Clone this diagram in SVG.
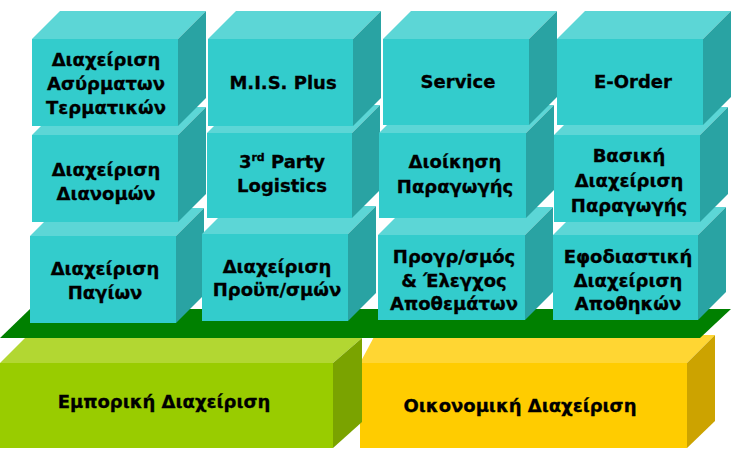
<svg xmlns="http://www.w3.org/2000/svg" width="731" height="469" viewBox="0 0 731 469">
<style>
.tf{fill:#33CCCC}.tt{fill:#5CD6D6}.ts{fill:#29A3A3}
.t{font-family:"DejaVu Sans","Liberation Sans",sans-serif;font-weight:bold;font-size:18px;fill:#000;stroke:#000;stroke-width:0.3;text-anchor:middle}
.b{font-size:18px}
</style>
<rect width="731" height="469" fill="#fff"/>
<g id="oikonomiki">
<polygon points="360,363 375,335 715,335 687,363" fill="#FFD633"/>
<polygon points="687,363 715,335 715,421 687,448" fill="#CCA300"/>
<rect x="360" y="363" width="327" height="85" fill="#FFCC00"/>
<text class="t b" x="520" y="412">Οικονομική Διαχείριση</text>
</g>
<g id="emporiki">
<polygon points="0,363 25,338 362,338 333,363" fill="#B2D732"/>
<polygon points="333,363 362,338 362,422 333,448" fill="#7AA300"/>
<rect x="0" y="363" width="333" height="85" fill="#99CC00"/>
<text class="t b" x="164" y="408">Εμπορική Διαχείριση</text>
</g>
<g id="platform">
<polygon points="0,338 30,309 731,309 700,338" fill="#008000"/>
</g>
<g id="pagia">
<polygon class="tt" points="30,236 58,208 204,208 176,236"/>
<polygon class="ts" points="176,236 204,208 204,295 176,323"/>
<rect class="tf" x="30" y="236" width="146" height="87"/>
<text class="t" x="105" y="275">Διαχείριση</text>
<text class="t" x="105" y="299">Παγίων</text>
</g>
<g id="proypologismoi">
<polygon class="tt" points="202,234 230,206 376,206 348,234"/>
<polygon class="ts" points="348,234 376,206 376,293 348,321"/>
<rect class="tf" x="202" y="234" width="146" height="87"/>
<text class="t" x="277" y="273">Διαχείριση</text>
<text class="t" x="277" y="296">Προϋπ/σμών</text>
</g>
<g id="apothemata">
<polygon class="tt" points="378,235 406,207 553,207 525,235"/>
<polygon class="ts" points="525,235 553,207 553,292 525,320"/>
<rect class="tf" x="378" y="235" width="147" height="85"/>
<text class="t" x="454" y="263">Προγρ/σμός</text>
<text class="t" x="454" y="287">&amp; Έλεγχος</text>
<text class="t" x="454" y="310">Αποθεμάτων</text>
</g>
<g id="apothikes">
<polygon class="tt" points="553,235 581,207 726,207 698,235"/>
<polygon class="ts" points="698,235 726,207 726,292 698,320"/>
<rect class="tf" x="553" y="235" width="145" height="85"/>
<text class="t" x="628" y="263">Εφοδιαστική</text>
<text class="t" x="628" y="287">Διαχείριση</text>
<text class="t" x="628" y="310">Αποθηκών</text>
</g>
<g id="dianomes">
<polygon class="tt" points="32,135 60,107 206,107 178,135"/>
<polygon class="ts" points="178,135 206,107 206,194 178,222"/>
<rect class="tf" x="32" y="135" width="146" height="87"/>
<text class="t" x="106" y="176">Διαχείριση</text>
<text class="t" x="106" y="200">Διανομών</text>
</g>
<g id="logistics">
<polygon class="tt" points="207,133 235,105 380,105 352,133"/>
<polygon class="ts" points="352,133 380,105 380,190 352,218"/>
<rect class="tf" x="207" y="133" width="145" height="85"/>
<text class="t" x="282" y="168">3<tspan font-size="11" dy="-7">rd</tspan><tspan dy="7"> Party</tspan></text>
<text class="t" x="282" y="192">Logistics</text>
</g>
<g id="dioikisi">
<polygon class="tt" points="379,133 407,105 554,105 526,133"/>
<polygon class="ts" points="526,133 554,105 554,190 526,218"/>
<rect class="tf" x="379" y="133" width="147" height="85"/>
<text class="t" x="455" y="168">Διοίκηση</text>
<text class="t" x="455" y="193">Παραγωγής</text>
</g>
<g id="vasiki">
<polygon class="tt" points="554,135 582,107 728,107 700,135"/>
<polygon class="ts" points="700,135 728,107 728,194 700,222"/>
<rect class="tf" x="554" y="135" width="146" height="87"/>
<text class="t" x="629" y="162">Βασική</text>
<text class="t" x="629" y="187">Διαχείριση</text>
<text class="t" x="629" y="212">Παραγωγής</text>
</g>
<g id="termatika">
<polygon class="tt" points="32,39 60,11 206,11 178,39"/>
<polygon class="ts" points="178,39 206,11 206,98 178,126"/>
<rect class="tf" x="32" y="39" width="146" height="87"/>
<text class="t" x="106" y="66">Διαχείριση</text>
<text class="t" x="106" y="90">Ασύρματων</text>
<text class="t" x="106" y="114">Τερματικών</text>
</g>
<g id="mis">
<polygon class="tt" points="208,39 236,11 381,11 353,39"/>
<polygon class="ts" points="353,39 381,11 381,98 353,126"/>
<rect class="tf" x="208" y="39" width="145" height="87"/>
<text class="t" x="283" y="89">M.I.S. Plus</text>
</g>
<g id="service">
<polygon class="tt" points="383,39 411,11 557,11 529,39"/>
<polygon class="ts" points="529,39 557,11 557,97 529,125"/>
<rect class="tf" x="383" y="39" width="146" height="86"/>
<text class="t" x="458" y="88">Service</text>
</g>
<g id="eorder">
<polygon class="tt" points="557,39 585,11 731,11 703,39"/>
<polygon class="ts" points="703,39 731,11 731,97 703,125"/>
<rect class="tf" x="557" y="39" width="146" height="86"/>
<text class="t" x="633" y="88">E-Order</text>
</g>
<g id="connectors"></g>
</svg>
